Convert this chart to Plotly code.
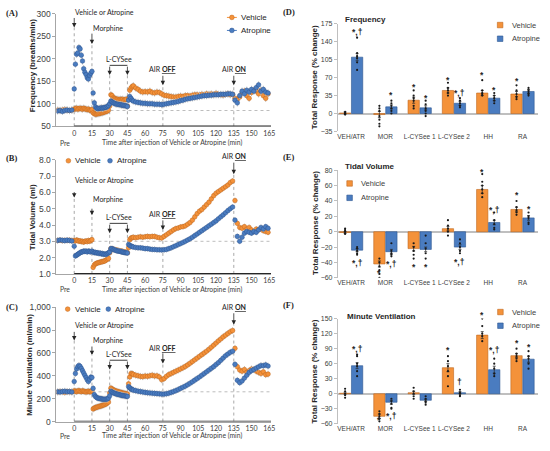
import plotly.graph_objects as go

W, H = 550, 451
ORANGE = '#F4923A'
ORANGE_EDGE = '#C0661C'
BLUE = '#4A7CC0'
BLUE_EDGE = '#2C5590'
GREY = '#A6A6A6'
INK = '#262626'
SANS = 'Liberation Sans, Arial, sans-serif'
CAL = 'Lato, Open Sans, sans-serif'


def px(x):
    return x / W


def py(y):
    return 1 - y / H


# ---------------- time course data ----------------
# minutes after injection (negative = Pre)
t = list(range(-14, 0, 2)) + list(range(0, 50)) + list(range(50, 165, 2))

freq_veh = [86, 85, 86, 87, 86, 85, 86,
            88, 89, 90, 88, 89, 90, 89, 88, 90, 89, 88, 87, 88, 86, 85, 87,
            80, 78, 77, 77, 78, 78, 79, 80, 80, 81, 82, 83, 84, 86,
            95, 120, 118, 113, 112, 111, 110, 110, 109, 110, 109, 110, 108, 109, 110, 95,
            112, 130, 135, 138,
            140, 135, 132, 128, 126, 127, 126, 128, 125, 124, 126, 125, 122, 119, 118, 117, 116, 115, 115, 116,
            117, 116, 118, 118, 117, 119, 120, 120, 119, 121, 120, 122, 121, 122, 120, 123, 121, 120, 119, 121,
            122, 120, 121, 112, 110, 115, 125, 128, 118, 112, 125, 130, 128, 122, 130, 118, 112, 122]
freq_atr = [84, 85, 83, 85, 86, 85, 86,
            133, 188, 210, 213, 225, 222, 208, 195, 178, 170, 165, 158, 155, 163, 168, 172,
            124, 102, 93, 90, 89, 90, 90, 91, 90, 91, 92, 92, 94, 96,
            100, 106, 104, 102, 101, 100, 99, 99, 98, 98, 97, 97, 96, 96, 95, 94,
            108, 116, 112, 108,
            106, 104, 103, 102, 101, 101, 100, 100, 100, 99, 99, 99, 98, 99, 100, 101, 102, 103, 104, 105,
            107, 108, 110, 111, 112, 113, 114, 115, 116, 117, 118, 118, 119, 119, 120, 120, 120, 121, 121, 121,
            122, 122, 121, 108, 102, 118, 128, 122, 130, 126, 132, 128, 136, 142, 128, 132, 126, 124]

vt_veh = [3.05, 3.07, 3.04, 3.06, 3.05, 3.07, 3.05,
          3.05, 3.02, 3.08, 3.05, 3.0, 3.03, 2.98, 3.0, 2.95, 3.0, 3.02, 2.98, 3.05, 3.0, 3.05, 3.1,
          1.4, 1.55, 1.62, 1.65, 1.68, 1.7, 1.72, 1.75, 1.75, 1.78, 1.8, 1.85, 1.9, 1.95,
          2.3, 2.55, 2.55, 2.5, 2.5, 2.48, 2.45, 2.45, 2.42, 2.4, 2.4, 2.38, 2.35, 2.35, 2.32, 2.3,
          2.6, 3.1, 3.2, 3.22,
          3.25, 3.22, 3.25, 3.28, 3.25, 3.28, 3.3, 3.28, 3.3, 3.3, 3.25, 3.22, 3.2, 3.3, 3.4, 3.5, 3.6, 3.7, 3.78, 3.82,
          3.88, 3.9, 3.95, 4.05, 4.15, 4.3, 4.5, 4.7, 4.85, 4.95, 5.1, 5.25, 5.4, 5.6, 5.8, 5.95, 6.05, 6.15, 6.25, 6.35,
          6.45, 6.6, 6.7, 5.5, 4.1, 3.85, 3.8, 3.9, 3.75, 3.85, 3.7, 3.6, 3.75, 3.7, 3.8, 3.65, 3.6, 3.55]
vt_atr = [3.05, 3.08, 3.06, 3.04, 3.07, 3.05, 3.02,
          2.7, 2.1, 2.15, 2.2, 2.25, 2.3, 2.35, 2.35, 2.4, 2.38, 2.4, 2.35, 2.4, 2.38, 2.35, 2.4,
          2.35, 2.3, 2.32, 2.28, 2.3, 2.25, 2.28, 2.22, 2.25, 2.2, 2.22, 2.2, 2.25, 2.3,
          2.35, 2.55, 2.55, 2.5, 2.48, 2.45, 2.42, 2.4, 2.4, 2.38, 2.35, 2.35, 2.32, 2.3, 2.3, 2.28,
          2.8, 2.75, 2.7, 2.68,
          2.65, 2.62, 2.6, 2.6, 2.58, 2.55, 2.55, 2.52, 2.5, 2.5, 2.48, 2.48, 2.47, 2.48, 2.5, 2.55, 2.6, 2.67, 2.73, 2.8,
          2.86, 2.93, 3.0, 3.08, 3.16, 3.25, 3.35, 3.45, 3.55, 3.65, 3.75, 3.85, 3.95, 4.05, 4.15, 4.25, 4.38, 4.5, 4.62, 4.75,
          4.88, 5.0, 5.1, 4.3, 3.3, 3.0, 3.25, 3.5, 3.6, 3.55, 3.5, 3.6, 3.55, 3.7, 3.85, 3.75, 3.9, 3.8]

mv_veh = [258, 262, 260, 255, 262, 258, 260,
          268, 265, 262, 266, 270, 264, 262, 268, 265, 262, 258, 262, 265, 260, 262, 268,
          110, 118, 122, 125, 128, 132, 135, 138, 142, 145, 150, 155, 162, 170,
          250, 292, 285, 278, 272, 268, 265, 262, 258, 255, 252, 250, 248, 245, 242, 240,
          330, 390, 420, 418,
          412, 405, 400, 395, 392, 398, 395, 400, 405, 398, 400, 390, 365, 375, 395, 410, 420, 430, 440, 450,
          460, 470, 482, 495, 510, 525, 540, 555, 570, 585, 600, 615, 632, 650, 668, 686, 705, 722, 740, 755,
          770, 785, 795, 640, 480, 450, 440, 455, 430, 445, 460, 455, 440, 430, 420, 435, 410, 415]
mv_atr = [260, 258, 262, 265, 260, 262, 258,
          350, 420, 460, 480, 490, 482, 465, 445, 425, 405, 385, 365, 350, 370, 388, 385,
          290, 235, 218, 210, 205, 202, 200, 198, 196, 195, 195, 196, 198, 205,
          225, 265, 258, 252, 248, 245, 240, 238, 235, 232, 230, 228, 226, 224, 222, 220,
          305, 295, 285, 280,
          275, 270, 265, 262, 258, 255, 252, 250, 248, 246, 244, 242, 240, 240, 243, 248, 255, 262, 270, 280,
          290, 300, 310, 322, 335, 348, 362, 376, 390, 405, 420, 435, 450, 465, 480, 498, 515, 535, 555, 575,
          590, 605, 615, 500, 360, 340, 355, 380, 405, 430, 445, 455, 468, 478, 490, 488, 495, 485]

for s in (freq_veh, freq_atr, vt_veh, vt_atr, mv_veh, mv_atr):
    assert len(s) == len(t), len(s)

event_times = [0, 15, 30, 45, 75, 135]
time_ticks = list(range(0, 166, 15))

# ---------------- total response data ----------------
groups = ['VEH/ATR', 'MOR', 'L-CYSee 1', 'L-CYSee 2', 'HH', 'RA']

f_veh = [1, -2, 26, 45, 40, 38]
f_veh_err = [2, 6, 6, 5, 5, 5]
f_atr = [110, 13, 11, 20, 30, 43]
f_atr_err = [7, 4, 4, 4, 5, 4]
f_pts_veh = [[3, 1, 0, -1, -2], [15, 10, 5, -5, -12, -20, -25], [45, 35, 30, 25, 15, 10],
             [60, 50, 45, 40, 35], [65, 45, 40, 38, 35], [55, 45, 38, 32, 28]]
f_pts_atr = [[148, 118, 112, 108, 100, 85], [25, 20, 15, 10, 5, 0], [25, 18, 10, 5, 0, -5],
             [30, 25, 20, 15, 12], [40, 35, 30, 25, 20], [50, 45, 42, 38, 35]]
f_sig = [(0, 1, 164, '*,†'), (1, 1, 40, '*'), (2, 0, 55, '*'), (2, 1, 35, '*'), (3, 0, 69, '*'),
         (3, 1, 43, '*,†'), (4, 0, 80, '*'), (4, 1, 50, '*'), (5, 0, 67, '*')]

tv_veh = [-1, -42, -22, 4, 55, 29]
tv_veh_err = [1, 4, 3, 3, 5, 3]
tv_atr = [-24, -26, -23, -20, 12, 18]
tv_atr_err = [2, 3, 3, 3, 3, 3]
tv_pts_veh = [[4, 2, 0, -2, -3], [-35, -40, -45, -50, -55, -60], [-15, -20, -25, -30, -35],
              [15, 8, 4, 0, -5], [75, 65, 60, 55, 50, 45], [40, 32, 28, 25, 22]]
tv_pts_atr = [[-20, -22, -25, -28, -30], [-15, -25, -28, -30, -32], [-5, -15, -22, -28, -35],
              [-10, -15, -20, -25, -28], [25, 15, 10, 5, 3], [25, 20, 18, 12, 10]]
tv_sig = [(0, 1, -38, '*,†'), (1, 0, -51, '*'), (1, 1, -40, '*,†'), (2, 0, -43, '*'), (2, 1, -43, '*'),
          (3, 1, -37, '*,†'), (4, 0, 80, '*'), (4, 1, 31, '*,†'), (5, 0, 51, '*'), (5, 1, 32, '*')]

mvr_veh = [1, -45, 2, 52, 117, 76]
mvr_veh_err = [2, 4, 3, 8, 7, 4]
mvr_atr = [56, -17, -13, 2, 48, 69]
mvr_atr_err = [6, 4, 2, 2, 7, 6]
mvr_pts_veh = [[10, 5, 0, -3, -8], [-35, -40, -45, -50, -55], [12, 5, 0, -5, -10],
               [75, 65, 55, 45, 35, 15], [150, 135, 120, 115, 105], [90, 80, 75, 70, 65]]
mvr_pts_atr = [[78, 75, 60, 55, 45, 35], [-10, -15, -20, -28, -30], [-5, -10, -15, -18, -22],
               [8, 3, 0, -3, -5], [70, 60, 50, 40, 35], [85, 75, 70, 60, 50]]
mvr_sig = [(0, 1, 94, '*,†'), (1, 0, -48, '*'), (1, 1, -41, '*,†'), (3, 0, 91, '*'), (3, 1, 28, '†'),
           (4, 0, 162, '*'), (4, 1, 91, '*,†'), (5, 0, 105, '*'), (5, 1, 98, '*')]

fig = go.Figure()
shapes = []
annos = []
frames = {}  # axis suffix -> (x0px, x1px, xrange, ybottom px, ytop px, yrange)


def sx(n, x):
    x0, x1, xr, _, _, _ = frames[n]
    return x0 + (x - xr[0]) / (xr[1] - xr[0]) * (x1 - x0)


def sy(n, y):
    _, _, _, yb, yt, yr = frames[n]
    return yb - (y - yr[0]) / (yr[1] - yr[0]) * (yb - yt)


def text(x, y, s, size=8, family=SANS, xanchor='center', color=INK, **kw):
    # x, y in screen pixels
    annos.append(dict(x=px(x), y=py(y), text=s, showarrow=False, xref='paper', yref='paper', xanchor=xanchor,
                      yanchor='middle', font=dict(size=size, family=family, color=color), **kw))


def dtext(n, x, y, s, **kw):
    text(sx(n, x), sy(n, y), s, **kw)


def arrow(n, x, tail, head):
    hx, hy = sx(n, x), sy(n, head)
    annos.append(dict(x=px(hx), y=py(hy), ax=0, ay=sy(n, tail) - hy, xref='paper', yref='paper', text='',
                      showarrow=True, arrowhead=2, arrowsize=1.1, arrowwidth=0.8, arrowcolor=INK))


# ---------------- left panels: time courses ----------------
left = [
    dict(n='', ydom=(124, 9), yr=[50, 300], dtick=50, fmt='d', veh=freq_veh, atr=freq_atr, sem=8, base=85,
         ylab='Frequency (breaths/min)', ylab_pos=(32, 62), tag='(A)', tag_y=8, xlab_y=141,
         ev=dict(va=(303.7, 293.5, 269.6), mor=(269, 258.7, 232.6), cys=(200, 185.4, 163.7),
                 off=(178, 165, 141.3), on=(178, 165, 141.3)),
         legend='vertical'),
    dict(n='2', ydom=(275, 158.3), yr=[1, 8], dtick=1, fmt='.1f', veh=vt_veh, atr=vt_atr, sem=0.18, base=3.0,
         ylab='Tidal Volume (ml)', ylab_pos=(31.7, 216.7), tag='(B)', tag_y=156.7, xlab_y=290.7,
         ev=dict(va=(6.74, 6.1, 5.68), mor=(5.6, 5.08, 4.6), cys=(4.5, 4.1, 3.5),
                 off=(4.7, 4.36, 3.7), on=(8.24, 7.9, 7.12)),
         legend=(159.3, 68, 110)),
    dict(n='3', ydom=(426, 309), yr=[0, 1000], dtick=200, fmt=',d', veh=mv_veh, atr=mv_atr, sem=30, base=260,
         ylab='Minute Ventilation (ml/min)', ylab_pos=(29.3, 368), tag='(C)', tag_y=309, xlab_y=440.7,
         ev=dict(va=(840, 795, 709), mor=(715, 667, 581), cys=(592, 536, 455),
                 off=(641, 607, 507), on=(1000, 957, 846)),
         legend=(311, 67.3, 108.3)),
]

for p in left:
    n = p['n']
    xa, ya = 'x' + n, 'y' + n
    frames[n] = (56, 272.5, [-15, 166.5], p['ydom'][0], p['ydom'][1], p['yr'])
    for vals, col, edge in ((p['veh'], ORANGE, ORANGE_EDGE), (p['atr'], BLUE, BLUE_EDGE)):
        fig.add_trace(go.Scatter(
            x=t, y=vals, mode='markers', xaxis=xa, yaxis=ya, hoverinfo='skip',
            marker=dict(size=4.6, color=col, line=dict(color=edge, width=0.5)),
            error_y=dict(type='constant', value=p['sem'], color='#C4C4C4', thickness=1, width=0)))
    fig.layout['xaxis' + n] = dict(domain=[px(56), px(272.5)], range=[-15, 166.5], anchor=ya,
                                   tickvals=time_ticks, showline=True, linecolor=GREY, showgrid=False,
                                   zeroline=False, ticks='', tickfont=dict(size=7, family=CAL, color='#404040'))
    fig.layout['yaxis' + n] = dict(domain=[py(p['ydom'][0]), py(p['ydom'][1])], range=p['yr'], anchor=xa,
                                   dtick=p['dtick'], tickformat=p['fmt'], showline=True, linecolor=GREY,
                                   ticks='outside', ticklen=3, tickcolor=GREY, showgrid=False, zeroline=False,
                                   tickfont=dict(size=8.5, family=SANS, color='#404040'))
    y0 = p['yr'][0]
    shapes.append(dict(type='line', xref=xa, yref=ya, x0=-15, x1=166.5, y0=p['base'], y1=p['base'],
                       line=dict(color='#BDBDBD', width=1, dash='dot'), layer='below'))
    shapes.append(dict(type='line', xref=xa, yref=ya, x0=0, x1=166.5, y0=y0, y1=y0,
                       line=dict(color=INK, width=1.6)))
    ev = p['ev']
    heads = {0: ev['va'][2], 15: ev['mor'][2], 30: ev['cys'][2], 45: ev['cys'][2],
             75: ev['off'][2], 135: ev['on'][2]}
    for et in event_times:
        shapes.append(dict(type='line', xref=xa, yref=ya, x0=et, x1=et, y0=y0, y1=heads[et],
                           line=dict(color='#9E9E9E', width=0.9, dash='dot'), layer='below'))
    for ex, key in ((0, 'va'), (15, 'mor'), (30, 'cys'), (45, 'cys'), (75, 'off'), (135, 'on')):
        arrow(n, ex, ev[key][1], ev[key][2])
    shapes.append(dict(type='line', xref=xa, yref=ya, x0=30, x1=45, y0=ev['cys'][1], y1=ev['cys'][1],
                       line=dict(color=INK, width=0.9)))
    dtext(n, -1, ev['va'][0], 'Vehicle or Atropine', size=7, family=CAL, xanchor='left')
    dtext(n, 14, ev['mor'][0], 'Morphine', size=7, family=CAL, xanchor='left')
    dtext(n, 37.5, ev['cys'][0], 'L-CYSee', size=7, family=CAL)
    dtext(n, 75, ev['off'][0], 'AIR <b><u>OFF</u></b>', size=7, family=CAL)
    dtext(n, 135, ev['on'][0], 'AIR <b><u>ON</u></b>', size=7, family=CAL)
    text(65, p['xlab_y'], 'Pre', size=6.8, family=CAL, color='#404040')
    text(172.5, p['xlab_y'], 'Time after injection of Vehicle or Atropine (min)', size=6.8,
         family=CAL, color='#404040')
    text(p['ylab_pos'][0], p['ylab_pos'][1], '<b>' + p['ylab'] + '</b>', size=8, textangle=-90)
    text(3, p['tag_y'], '<b>' + p['tag'] + '</b>', size=8.5, family='Liberation Serif, serif', xanchor='left')
    r = 2.4
    if p['legend'] == 'vertical':
        for ly, c, e, lab in ((12.7, ORANGE, ORANGE_EDGE, 'Vehicle'), (26, BLUE, BLUE_EDGE, 'Atropine')):
            shapes.append(dict(type='line', xref='paper', yref='paper', x0=px(228), x1=px(238),
                               y0=py(ly), y1=py(ly), line=dict(color=c, width=1)))
            shapes.append(dict(type='circle', xref='paper', yref='paper', x0=px(233 - r), x1=px(233 + r),
                               y0=py(ly + r), y1=py(ly - r), fillcolor=c, line=dict(color=e, width=0.5)))
            text(240, ly, lab, size=8, xanchor='left')
    else:
        ly, ox, bx = p['legend']
        for lx, c, e, lab in ((ox, ORANGE, ORANGE_EDGE, 'Vehicle'), (bx, BLUE, BLUE_EDGE, 'Atropine')):
            shapes.append(dict(type='circle', xref='paper', yref='paper', x0=px(lx - r), x1=px(lx + r),
                               y0=py(ly + r), y1=py(ly - r), fillcolor=c, line=dict(color=e, width=0.5)))
            text(lx + 5, ly, lab, size=8, xanchor='left')

# ---------------- right panels: total responses ----------------
right = [
    dict(n='4', ydom=(129.3, 19.3), yr=[-35, 175], dtick=35, veh=f_veh, ve=f_veh_err, atr=f_atr, ae=f_atr_err,
         pv=f_pts_veh, pa=f_pts_atr, sig=f_sig, title='Frequency', tpos=(345, 15), tag='(D)', tag_y=7.5,
         leg=(503.7, 20.5, 34.5, 514), ylab_y=74),
    dict(n='5', ydom=(279, 169), yr=[-60, 80], dtick=20, veh=tv_veh, ve=tv_veh_err, atr=tv_atr, ae=tv_atr_err,
         pv=tv_pts_veh, pa=tv_pts_atr, sig=tv_sig, title='Tidal Volume', tpos=(345, 165), tag='(E)', tag_y=155,
         leg=(351.8, 182.5, 197.2, 361), ylab_y=223),
    dict(n='6', ydom=(428.3, 320.7), yr=[-60, 150], dtick=30, veh=mvr_veh, ve=mvr_veh_err, atr=mvr_atr,
         ae=mvr_atr_err, pv=mvr_pts_veh, pa=mvr_pts_atr, sig=mvr_sig, title='Minute Ventilation',
         tpos=(346.7, 318.3), tag='(F)', tag_y=306.7, leg=(504, 314, 328, 514), ylab_y=375),
]
OFF = 0.175
for p in right:
    n = p['n']
    xa, ya = 'x' + n, 'y' + n
    frames[n] = (340, 541.7, [-0.385, 5.445], p['ydom'][0], p['ydom'][1], p['yr'])
    for k, (vals, err, pts, col, edge) in enumerate(((p['veh'], p['ve'], p['pv'], ORANGE, ORANGE_EDGE),
                                                     (p['atr'], p['ae'], p['pa'], BLUE, BLUE_EDGE))):
        sh = -OFF if k == 0 else OFF
        fig.add_trace(go.Bar(
            x=[i + sh for i in range(len(groups))], y=vals, width=0.33, xaxis=xa, yaxis=ya, hoverinfo='skip',
            marker=dict(color=col, line=dict(color=edge, width=0.6)),
            error_y=dict(type='data', array=err, color=INK, thickness=0.7, width=1.5)))
        dx = [i + sh for i in range(len(groups)) for _ in pts[i]]
        dy = [v for i in range(len(groups)) for v in pts[i]]
        fig.add_trace(go.Scatter(x=dx, y=dy, mode='markers', xaxis=xa, yaxis=ya, hoverinfo='skip',
                                 marker=dict(size=2.2, color='#1A1A1A')))
    fig.layout['xaxis' + n] = dict(domain=[px(340), px(541.7)], range=[-0.385, 5.445], anchor=ya,
                                   tickvals=list(range(len(groups))), ticktext=groups, showline=False,
                                   showgrid=False, zeroline=False, ticks='',
                                   tickfont=dict(size=6.5, family=SANS, color='#404040'))
    fig.layout['yaxis' + n] = dict(domain=[py(p['ydom'][0]), py(p['ydom'][1])], range=p['yr'], anchor=xa,
                                   dtick=p['dtick'], showline=True, linecolor='#BFBFBF', ticks='outside',
                                   ticklen=3, tickcolor='#BFBFBF', showgrid=False, zeroline=True,
                                   zerolinecolor='#BFBFBF', zerolinewidth=2,
                                   tickfont=dict(size=7, family=SANS, color='#404040'))
    for gi, ser, yv, s in p['sig']:
        sh = -OFF if ser == 0 else OFF
        dtext(n, gi + sh, yv, '<b>' + s + '</b>', size=8.5, yshift=-2)
    text(p['tpos'][0], p['tpos'][1], '<b>' + p['title'] + '</b>', size=8, xanchor='left')
    text(283, p['tag_y'], '<b>' + p['tag'] + '</b>', size=8.5, family='Liberation Serif, serif', xanchor='left')
    text(316.7, p['ylab_y'], '<b>Total Response (% change)</b>', size=8, textangle=-90)
    lx, ly1, ly2, tx = p['leg']
    for ly, c, e, lab in ((ly1, ORANGE, ORANGE_EDGE, 'Vehicle'), (ly2, BLUE, BLUE_EDGE, 'Atropine')):
        shapes.append(dict(type='rect', xref='paper', yref='paper', x0=px(lx - 2.8), x1=px(lx + 2.8),
                           y0=py(ly + 2.8), y1=py(ly - 2.8), fillcolor=c, line=dict(color=e, width=0.6)))
        text(tx, ly, lab, size=7.5, xanchor='left', color='#404040')

fig.update_layout(width=W, height=H, margin=dict(l=0, r=0, t=0, b=0), showlegend=False,
                  barmode='overlay', plot_bgcolor='white', paper_bgcolor='white',
                  shapes=shapes, annotations=annos, font=dict(family=SANS))
# the page body has a default 8px margin; drop it so the figure sits at the window origin
fig.write_html('out.html', config={'displayModeBar': False},
               post_script="document.body.style.margin='0';")
